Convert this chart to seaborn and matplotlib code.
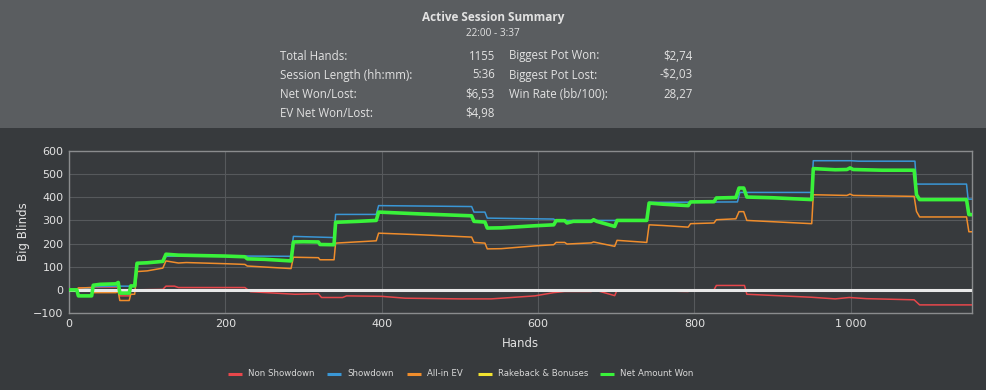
import numpy as np
import pandas as pd
import matplotlib
matplotlib.use("Agg")
import matplotlib.pyplot as plt
from matplotlib.patches import Rectangle
from matplotlib.lines import Line2D
import seaborn as sns

# ---------------- data ----------------
net_pts = [(0,0),(10,0),(12,-26),(29,-26),(31,20),(40,24),(60,26),(63,32),(65,-14),(77,-14),(79,17),(84,17),
           (87,115),(100,117),(120,123),(124,154),(140,150),(170,148),(200,146),(225,143),(228,134),(250,132),
           (284,125),(287,207),(300,208),(319,207),(321,196),(339,195),(341,292),(370,296),(393,300),(396,336),
           (450,328),(515,320),(518,296),(532,293),(535,267),(553,268),(596,277),(620,281),(623,299),(634,299),
           (637,289),(645,296),(668,296),(671,303),(675,296),(698,274),(701,300),(739,300),(742,375),(760,370),
           (792,364),(795,380),(825,381),(828,397),(853,399),(857,440),(863,440),(867,401),(900,398),(950,390),
           (952,524),(980,519),(995,520),(999,527),(1003,520),(1040,517),(1081,517),(1084,411),(1088,390),
           (1148,390),(1151,325),(1155,325)]
showdown_pts = [(0,0),(12,0),(30,10),(31,14),(60,16),(63,16),(85,16),(87,115),(120,120),(124,145),(170,146),
                (225,146),(284,145),(287,231),(339,226),(341,326),(393,326),(396,364),(515,360),(518,336),
                (532,336),(535,310),(596,307),(620,306),(622,300),(739,300),(742,378),(855,380),(858,421),
                (950,421),(952,558),(1000,558),(1010,556),(1082,556),(1084,457),(1148,457),(1150,392),(1155,392)]
allin_pts = [(0,0),(10,0),(12,8),(30,10),(31,-12),(60,-12),(63,-8),(65,-46),(77,-46),(79,-19),(84,-19),(87,79),
             (100,82),(120,94),(124,125),(140,116),(150,118),(200,113),(225,110),(228,103),(284,92),(287,141),
             (319,139),(321,130),(339,130),(341,202),(393,212),(396,245),(450,238),(515,228),(518,205),(532,202),
             (535,177),(553,178),(596,190),(620,195),(623,205),(634,205),(637,198),(668,203),(671,207),(698,188),
             (701,214),(739,205),(742,281),(760,278),(792,271),(795,286),(825,289),(828,303),(853,307),(857,338),
             (863,338),(867,300),(950,286),(952,411),(995,408),(999,414),(1003,408),(1081,404),(1084,339),
             (1088,315),(1148,315),(1151,251),(1155,251)]
nonsd_pts = [(0,0),(10,0),(12,8),(30,10),(31,12),(62,12),(65,-26),(78,-26),(79,0),(84,0),(120,2),(124,16),
             (135,16),(140,10),(225,10),(232,-8),(289,-19),(319,-17),(323,-33),(350,-33),(355,-26),(400,-28),
             (430,-36),(500,-39),(540,-39),(553,-36),(596,-26),(620,-12),(634,-7),(668,-7),(671,0),(675,-3),
             (698,-25),(701,-1),(792,-7),(795,0),(825,0),(828,19),(864,19),(867,-19),(950,-32),(980,-39),
             (998,-33),(1020,-38),(1081,-43),(1088,-65),(1155,-65)]
rakeback_pts = [(0,0),(1155,0)]

series_names = ["Non Showdown", "Showdown", "All-in EV", "Rakeback & Bonuses", "Net Amount Won"]
series_pts = [nonsd_pts, showdown_pts, allin_pts, rakeback_pts, net_pts]
colors = ["#e8474b", "#3a97d6", "#f08d2c", "#f2e330", "#39f23a"]
widths = [1.1, 1.1, 1.1, 1.1, 2.6]

x_ticks = [0, 200, 400, 600, 800, 1000]
x_ticklabels = ["0", "200", "400", "600", "800", "1 000"]
y_ticks = [-100, 0, 100, 200, 300, 400, 500, 600]

summary_left = [("Total Hands:", "1155"), ("Session Length (hh:mm):", "5:36"),
                ("Net Won/Lost:", "$6,53"), ("EV Net Won/Lost:", "$4,98")]
summary_right = [("Biggest Pot Won:", "$2,74"), ("Biggest Pot Lost:", "-$2,03"),
                 ("Win Rate (bb/100):", "28,27")]

# ---------------- figure ----------------
W, H = 986, 390
bg_dark = "#373a3d"
bg_head = "#5a5d60"
txt = "#e2e2e2"

sns.set_theme(style="dark")
plt.rcParams["font.family"] = ["DejaVu Sans"]
fig = plt.figure(figsize=(W/100, H/100), dpi=100, facecolor=bg_dark)
fig.patches.append(Rectangle((0, 1 - 128/H), 1, 128/H, transform=fig.transFigure,
                             facecolor=bg_head, edgecolor="none", zorder=0))

fig.text(493/W, 1 - 18/H, "Active Session Summary", ha="center", va="center",
         fontsize=8.5, fontweight="bold", color=txt, family="Open Sans")
fig.text(493/W, 1 - 33/H, "22:00 - 3:37", ha="center", va="center",
         fontsize=7.2, color=txt, family="Open Sans")
rows_y = [56, 75, 94, 113]
for (lab, val), yy in zip(summary_left, rows_y):
    fig.text(280/W, 1 - yy/H, lab, ha="left", va="center", fontsize=8.3, color=txt, family="Open Sans")
    fig.text(495/W, 1 - yy/H, val, ha="right", va="center", fontsize=8.3, color=txt, family="Open Sans")
for (lab, val), yy in zip(summary_right, rows_y):
    fig.text(509/W, 1 - yy/H, lab, ha="left", va="center", fontsize=8.3, color=txt, family="Open Sans")
    fig.text(693/W, 1 - yy/H, val, ha="right", va="center", fontsize=8.3, color=txt, family="Open Sans")

ax = fig.add_axes([69/W, 1 - 313/H, (972-69)/W, (313-151)/H])
ax.set_facecolor(bg_dark)

frames = []
for name, pts in zip(series_names, series_pts):
    d = pd.DataFrame(pts, columns=["hand", "bb"])
    d["series"] = name
    frames.append(d)
df = pd.concat(frames, ignore_index=True)

for i, (name, col, lw) in enumerate(zip(series_names, colors, widths)):
    sub = df[df["series"] == name]
    sns.lineplot(data=sub, x="hand", y="bb", ax=ax, color=col, linewidth=lw,
                 estimator=None, sort=False, legend=False, zorder=3 + i)
    if name == "Rakeback & Bonuses":
        ax.axhline(0, color="#e8e8e8", linewidth=2.2, zorder=3 + i)

ax.set_xlim(0, 1155)
ax.set_ylim(-100, 600)
ax.set_xticks(x_ticks)
ax.set_xticklabels(x_ticklabels)
ax.set_yticks(y_ticks)
ax.grid(True, color="#56595c", linewidth=0.8)
ax.set_axisbelow(True)
for s in ax.spines.values():
    s.set_color("#8a8c8e")
    s.set_linewidth(1.0)
    s.set_visible(True)
ax.tick_params(axis="both", colors=txt, labelsize=8, length=0, pad=4)
for lbl in ax.get_xticklabels() + ax.get_yticklabels():
    lbl.set_color(txt)
ax.set_xlabel("Hands", color=txt, fontsize=8.5, labelpad=6)
ax.set_ylabel("Big Blinds", color=txt, fontsize=8.5, labelpad=2)

# manual legend
leg_line_x = [228, 327, 407, 478, 600]
leg_text_x = [248, 347, 427, 498, 620]
leg_y = 1 - 374/H
for lx, tx, name, col in zip(leg_line_x, leg_text_x, series_names, colors):
    fig.add_artist(Line2D([lx/W, (lx + 14)/W], [leg_y, leg_y], transform=fig.transFigure,
                          color=col, linewidth=2.2, solid_capstyle="butt"))
    fig.text(tx/W, leg_y, name, ha="left", va="center", fontsize=6.2, color="#d8d8d8")

fig.savefig("out.png", dpi=100, facecolor=bg_dark)
